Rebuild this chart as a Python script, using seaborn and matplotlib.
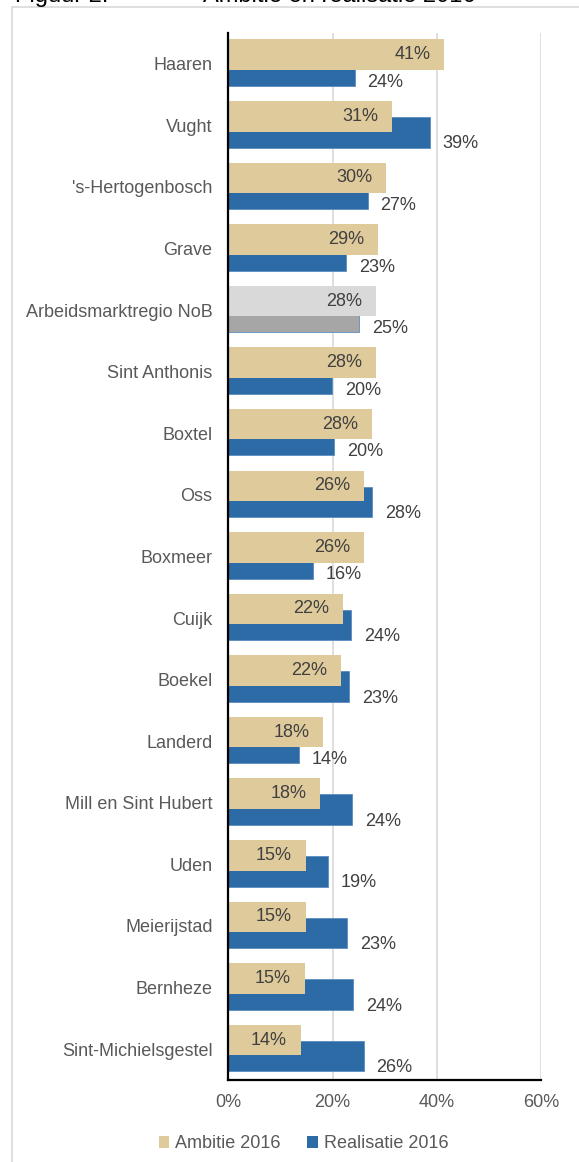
import matplotlib
matplotlib.use('Agg')
import matplotlib.pyplot as plt
import seaborn as sns
import pandas as pd
from matplotlib.patches import Patch, Rectangle

# data (top to bottom)
gemeenten = ['Haaren', 'Vught', "'s-Hertogenbosch", 'Grave', 'Arbeidsmarktregio NoB',
             'Sint Anthonis', 'Boxtel', 'Oss', 'Boxmeer', 'Cuijk', 'Boekel', 'Landerd',
             'Mill en Sint Hubert', 'Uden', 'Meierijstad', 'Bernheze', 'Sint-Michielsgestel']
ambitie = [41.4, 31.4, 30.3, 28.8, 28.3, 28.3, 27.6, 26.1, 26.1, 22.0, 21.6, 18.2,
           17.6, 14.8, 14.8, 14.6, 13.9]
realisatie = [24.2, 38.6, 26.8, 22.6, 25.1, 19.9, 20.3, 27.6, 16.3, 23.6, 23.2, 13.6,
              23.8, 19.2, 22.8, 24.0, 26.0]
regio = 'Arbeidsmarktregio NoB'

# kleuren
tan = '#DFCA9B'
blauw = '#2C6BA6'
grijs_licht = '#D9D9D9'
grijs_donker = '#A6A6A6'
tekst_grijs = '#595959'
label_grijs = '#404040'
fs = 13

sns.set_theme(style='white')
plt.rcParams['font.family'] = ['Liberation Sans', 'DejaVu Sans']

df = pd.DataFrame({'gemeente': gemeenten, 'ambitie': ambitie, 'realisatie': realisatie})
kleur_amb = [grijs_licht if g == regio else tan for g in gemeenten]
kleur_real = [grijs_donker if g == regio else blauw for g in gemeenten]

fig = plt.figure(figsize=(5.79, 11.62), dpi=100)
ax = fig.add_axes([0.3946, 0.0706, 0.5398, 0.901])

hoogte = 0.495
off_amb = -0.148
off_real = 0.112

# realisatie eerst, ambitie erover
sns.barplot(data=df, x='realisatie', y='gemeente', hue='gemeente', palette=kleur_real,
            width=hoogte, legend=False, ax=ax, saturation=1, linewidth=0)
n_real = len(ax.patches)
for p in ax.patches:
    p.set_y(p.get_y() + off_real)
    p.set_edgecolor('#5B8CC0' if p.get_facecolor()[2] > 0.5 else 'none')
    p.set_linewidth(0.6)

sns.barplot(data=df, x='ambitie', y='gemeente', hue='gemeente', palette=kleur_amb,
            width=hoogte, legend=False, ax=ax, saturation=1, linewidth=0)
for p in ax.patches[n_real:]:
    p.set_y(p.get_y() + off_amb)
    p.set_edgecolor('none')

# labels
for i, (a, r) in enumerate(zip(ambitie, realisatie)):
    ax.annotate(f'{round(a)}%', xy=(a, i + off_amb), xytext=(-10, 0),
                textcoords='offset points', ha='right', va='center',
                fontsize=fs, color=label_grijs)
    ax.annotate(f'{round(r)}%', xy=(r, i + 0.3), xytext=(9, 0),
                textcoords='offset points', ha='left', va='center',
                fontsize=fs, color=label_grijs)

ax.set_xlim(0, 60)
ax.set_ylim(16.5, -0.5)
ax.set_xticks([0, 20, 40, 60])
ax.set_xticklabels(['0%', '20%', '40%', '60%'])
ax.xaxis.grid(True, color=grijs_licht, linewidth=1.2)
ax.yaxis.grid(False)
ax.set_axisbelow(True)
ax.set_xlabel('')
ax.set_ylabel('')
ax.tick_params(axis='x', length=0, pad=10, labelsize=fs, labelcolor=tekst_grijs)
ax.tick_params(axis='y', length=0, pad=11.5, labelsize=fs, labelcolor=tekst_grijs)

for s in ['top', 'right']:
    ax.spines[s].set_visible(False)
for s in ['left', 'bottom']:
    ax.spines[s].set_color('black')
    ax.spines[s].set_linewidth(1.6)

# legenda
handles = [Patch(facecolor=tan, edgecolor='none', label='Ambitie 2016'),
           Patch(facecolor=blauw, edgecolor='none', label='Realisatie 2016')]
leg = fig.legend(handles=handles, loc='center', bbox_to_anchor=(303.5 / 579, 1 - 1144 / 1162),
                 ncol=2, frameon=False, handlelength=0.6, handleheight=0.6,
                 handletextpad=0.3, columnspacing=1.5, fontsize=fs)
for t in leg.get_texts():
    t.set_color(tekst_grijs)

# kader rond de figuur (rechts/onder buiten beeld)
fig.patches.append(Rectangle((12 / 579, -0.1), 1.2, 1.1 - 7 / 1162, transform=fig.transFigure,
                             fill=False, edgecolor=grijs_licht, linewidth=1.2))

# afgesneden titel
fig.text(15 / 579, 1 - 2 / 1162, 'Figuur 2:', fontsize=17, va='baseline', ha='left', color='black')
fig.text(203 / 579, 1 - 2 / 1162, 'Ambitie en realisatie 2016', fontsize=17, va='baseline',
         ha='left', color='black')

fig.savefig('out.png', dpi=100)
